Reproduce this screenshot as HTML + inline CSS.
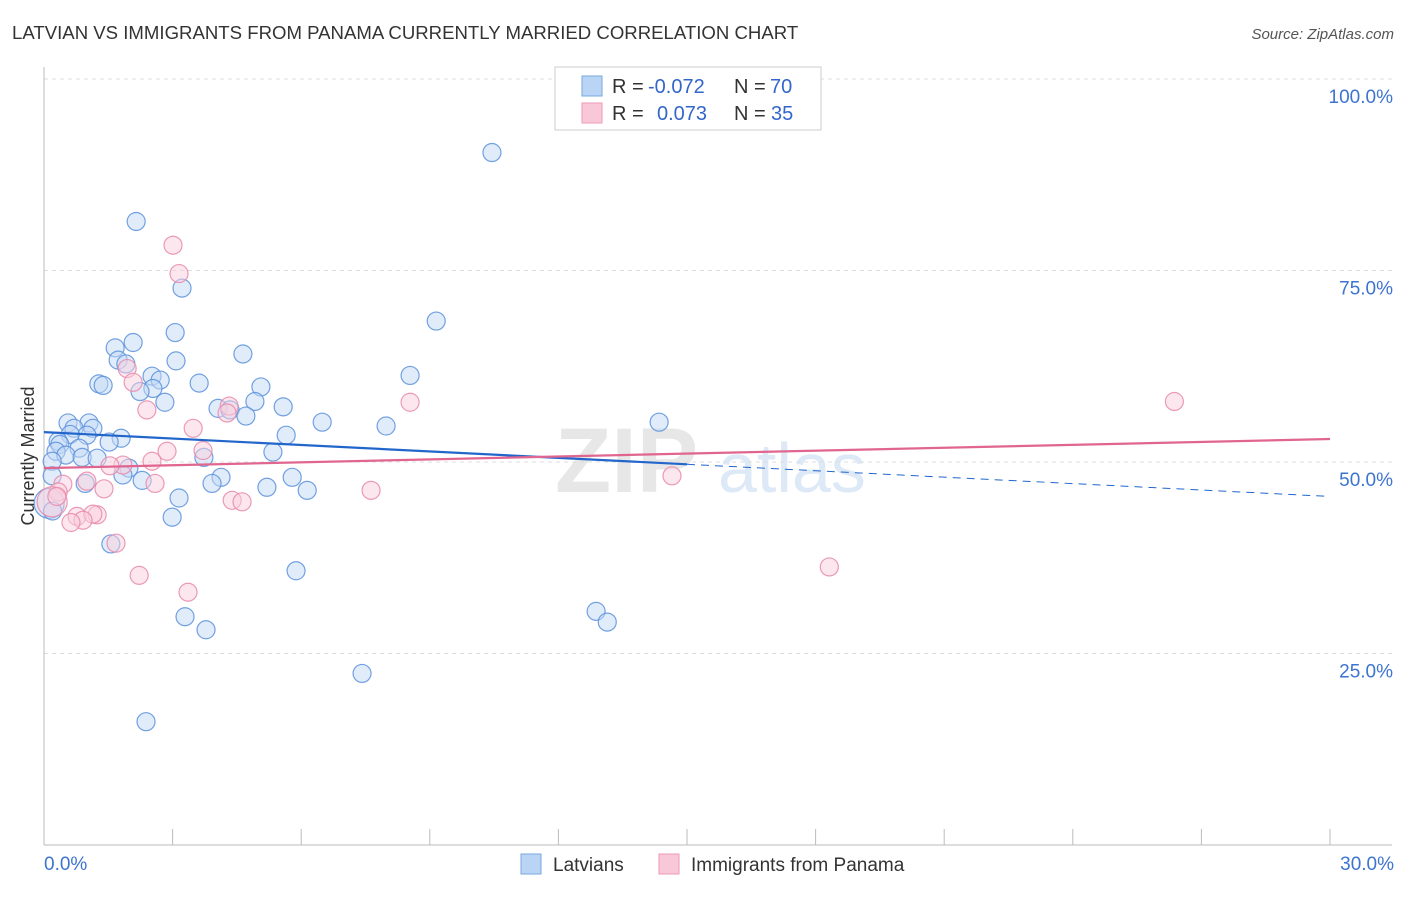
<!DOCTYPE html>
<html><head><meta charset="utf-8"><style>
body{margin:0;background:#fff;font-family:"Liberation Sans",sans-serif;}
svg text{font-family:"Liberation Sans",sans-serif;}
</style></head><body>
<svg id="chart" width="1406" height="892" viewBox="0 0 1406 892" xmlns="http://www.w3.org/2000/svg">
<text x="12" y="39" font-size="18.6" fill="#333">LATVIAN VS IMMIGRANTS FROM PANAMA CURRENTLY MARRIED CORRELATION CHART</text>
<text x="1394" y="39" font-size="15" fill="#555" font-style="italic" text-anchor="end">Source: ZipAtlas.com</text>
<g>
<text x="555" y="492" font-size="92" font-family="Liberation Serif" font-weight="bold" fill="#ddd" opacity="0.7">ZIP</text>
<text x="718" y="492" font-size="70" fill="#cfe0f3" opacity="0.7">atlas</text>
</g>
<g id="grid"></g>
<g id="axes"></g>
<g id="marks"></g>
<g>
<rect x="555" y="67" width="266" height="63" fill="#fff" stroke="#ccc"/>
<rect x="582" y="76" width="20" height="20" fill="#b9d4f5" stroke="#7aa7e0"/>
<rect x="582" y="103" width="20" height="20" fill="#f8c8d8" stroke="#ec9ab6"/>
<text x="612" y="93" font-size="20" fill="#333">R =</text>
<text x="648" y="93" font-size="20" fill="#3366cc">-0.072</text>
<text x="734" y="93" font-size="20" fill="#333">N =</text>
<text x="770" y="93" font-size="20" fill="#3366cc">70</text>
<text x="612" y="120" font-size="20" fill="#333">R =</text>
<text x="657" y="120" font-size="20" fill="#3366cc">0.073</text>
<text x="734" y="120" font-size="20" fill="#333">N =</text>
<text x="771" y="120" font-size="20" fill="#3366cc">35</text>
</g>
<g>
<rect x="521" y="854" width="20" height="20" fill="#b9d4f5" stroke="#7aa7e0"/>
<text x="553" y="871" font-size="19" fill="#333">Latvians</text>
<rect x="659" y="854" width="20" height="20" fill="#f8c8d8" stroke="#ec9ab6"/>
<text x="691" y="871" font-size="19" fill="#333">Immigrants from Panama</text>
</g>
<text transform="translate(34,456) rotate(-90)" font-size="18" fill="#333" text-anchor="middle">Currently Married</text>
</svg>
<script>
const yTicks=[25,50,75,100];
const yTickLabels=["25.0%","50.0%","75.0%","100.0%"];
const xTickCount=10;
const latX=[10.45,2.15,3.22,9.15,3.06,2.08,1.66,4.64,1.73,3.08,1.91,8.54,2.52,2.71,3.62,1.28,1.38,5.06,2.54,2.24,2.82,4.92,4.06,4.34,5.58,4.71,0.56,1.05,6.49,14.35,7.98,0.70,1.14,5.65,1.0,0.61,1.8,0.33,1.52,0.37,0.82,0.28,5.34,0.51,0.89,1.24,3.73,0.19,1.98,1.84,0.19,4.13,5.79,2.29,0.96,3.92,5.2,6.14,3.15,2.99,1.56,5.88,12.88,13.14,3.29,3.78,7.42,2.38,0.12,0.2];
const latY=[90.4,81.4,72.7,68.4,66.9,65.6,64.9,64.1,63.3,63.2,62.8,61.3,61.2,60.7,60.3,60.2,60.0,59.8,59.6,59.2,57.8,57.9,57.0,56.8,57.2,56.0,55.1,55.1,55.2,55.2,54.7,54.4,54.4,53.5,53.5,53.6,53.1,52.7,52.6,52.3,51.8,51.4,51.3,50.9,50.6,50.5,50.6,50.1,49.2,48.3,48.2,48.0,48.0,47.6,47.2,47.2,46.7,46.3,45.3,42.8,39.3,35.8,30.5,29.1,29.8,28.1,22.4,16.1,44.6,43.6];
const panX=[3.01,3.15,1.94,2.08,26.37,8.54,4.32,4.27,2.40,3.48,3.71,2.87,2.52,1.84,1.54,14.65,1.0,0.44,2.59,7.63,1.4,0.33,0.19,4.39,4.62,0.77,1.24,1.14,0.91,0.63,1.68,18.32,2.22,3.36,0.3];
const panY=[78.3,74.6,62.2,60.4,57.9,57.8,57.3,56.4,56.8,54.4,51.5,51.4,50.1,49.6,49.5,48.2,47.5,47.1,47.2,46.3,46.5,46.1,44.8,45.0,44.8,42.9,43.1,43.2,42.4,42.1,39.4,36.3,35.2,33.0,45.5];
const latTrend=[53.9,45.5];
const latSolidEnd=15;
const panTrend=[49.2,53.0];

const NS="http://www.w3.org/2000/svg";
const X0=44,X1=1330,Y0=845,Y100=79;
const xs=v=>X0+(v/30)*(X1-X0);
const ys=v=>Y0-(v/100)*(Y0-Y100);
function mk(tag,attrs,parent){const e=document.createElementNS(NS,tag);for(const k in attrs)e.setAttribute(k,attrs[k]);document.getElementById(parent).appendChild(e);return e;}
yTicks.forEach((t,i)=>{
 const l=mk('line',{x1:X0,x2:1392,y1:ys(t),y2:ys(t),stroke:'#ddd','stroke-dasharray':'4,4'},'grid');
 
 
 const tx=mk('text',{x:1393,y:ys(t)+24,'font-size':19,fill:'#3d74d0','text-anchor':'end'},'axes');
 tx.textContent=yTickLabels[i];
 
 
});
const ax=mk('line',{x1:X0,x2:X0,y1:67,y2:Y0,stroke:'#bbb'},'axes');


const bx=mk('line',{x1:X0,x2:1392,y1:Y0,y2:Y0,stroke:'#bbb'},'axes');


for(let i=0;i<=xTickCount;i++){const v=i*3;
 const t=mk('line',{x1:xs(v),x2:xs(v),y1:Y0-16,y2:Y0,stroke:'#bbb'},'axes');
 
 }
const xl0=mk('text',{x:44,y:870,'font-size':19,fill:'#3d74d0'},'axes');xl0.textContent='0.0%';


const xl1=mk('text',{x:1394,y:870,'font-size':19,fill:'#3d74d0','text-anchor':'end'},'axes');xl1.textContent='30.0%';


function pt(x,y,big,fill,stroke,name){
 const c=mk('circle',{cx:xs(x),cy:ys(y),r:big?15:9,fill:fill,'fill-opacity':big?0.5:0.5,stroke:stroke,'stroke-width':1.2,'stroke-opacity':0.85},'marks');
 
 
}
latX.forEach((x,i)=>pt(x,latY[i],i===68,'#c4daf5','#5b91dc','latvian-point'));
panX.forEach((x,i)=>pt(x,panY[i],i===22,'#f9cfdd','#e88aab','panama-point'));
const lt=v=>latTrend[0]+(latTrend[1]-latTrend[0])*v/30;
const l1=mk('line',{x1:xs(0),y1:ys(lt(0)),x2:xs(latSolidEnd),y2:ys(lt(latSolidEnd)),stroke:'#2266cc','stroke-width':2.2},'marks');


const l2=mk('line',{x1:xs(latSolidEnd),y1:ys(lt(latSolidEnd)),x2:xs(30),y2:ys(lt(30)),stroke:'#2266cc','stroke-width':1,'stroke-dasharray':'8,6'},'marks');


const l3=mk('line',{x1:xs(0),y1:ys(panTrend[0]),x2:xs(30),y2:ys(panTrend[1]),stroke:'#e06690','stroke-width':2.2},'marks');


</script>
</body></html>
